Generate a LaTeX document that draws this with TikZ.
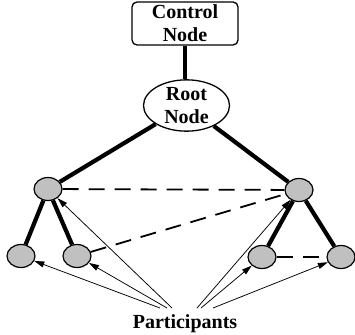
\documentclass[tikz,border=0pt]{standalone}
\usepackage{fontspec}
\setmainfont{Liberation Serif}
\usetikzlibrary{arrows.meta,shapes.geometric}
\definecolor{peerfill}{HTML}{C0C0C0}
\begin{document}
\begin{tikzpicture}[x=1pt,y=-1pt,
  txt/.style={font=\fontsize{20}{23}\selectfont\bfseries, align=center},
  boxnode/.style={draw, line width=1.3pt, inner sep=0pt, txt},
  peer/.style={ellipse, draw, line width=1.2pt, fill=peerfill,
    minimum width=28pt, minimum height=23pt, inner sep=0pt},
  tree/.style={line width=4.2pt},
  link/.style={line width=1.8pt, dash pattern=on 16pt off 10pt},
  hint/.style={line width=0.75pt, -{Triangle[length=10pt,width=6pt]}}]
\useasboundingbox (0,0) rectangle (355,334);

% control and root
\node[boxnode, rounded corners=5pt, minimum width=106pt, minimum height=43pt]
  (ctrl) at (185,23.5) {Control\\Node};
\node[boxnode, ellipse, minimum width=86pt, minimum height=51pt]
  (root) at (186.5,105.5) {Root\\Node};

% participants
\node[peer] (L)  at (48,189)  {};
\node[peer] (R)  at (299,190) {};
\node[peer] (LL) at (21,256)  {};
\node[peer] (LR) at (77,256)  {};
\node[peer] (RL) at (262,257) {};
\node[peer] (RR) at (341,257) {};

% tree edges
\draw[tree] (ctrl.south) -- (ctrl.south |- root.north);
\draw[tree] (root) -- (L);
\draw[tree] (root) -- (R);
\draw[tree] (L) -- (LL);
\draw[tree] (L) -- (LR);
\draw[tree] (R) -- (RL);
\draw[tree] (R) -- (RR);

% peer links
\draw[link] (L) -- (R);
\draw[link] (LR) -- (R);
\draw[link] (RL) -- (RR);

% caption with pointers
\node[txt, anchor=base] (cap) at (185,328) {Participants};
\coordinate (s1) at (160,308);
\coordinate (s2) at (167,308);
\coordinate (s3) at (172,308);
\coordinate (s4) at (197,308);
\coordinate (s5) at (201,308);
\coordinate (s6) at (213,308);
\draw[hint] (s1) -- (LL);
\draw[hint] (s2) -- (LR);
\draw[hint] (s3) -- (L);
\draw[hint] (s4) -- (R);
\draw[hint] (s5) -- (RL);
\draw[hint] (s6) -- (RR);
\end{tikzpicture}
\end{document}
